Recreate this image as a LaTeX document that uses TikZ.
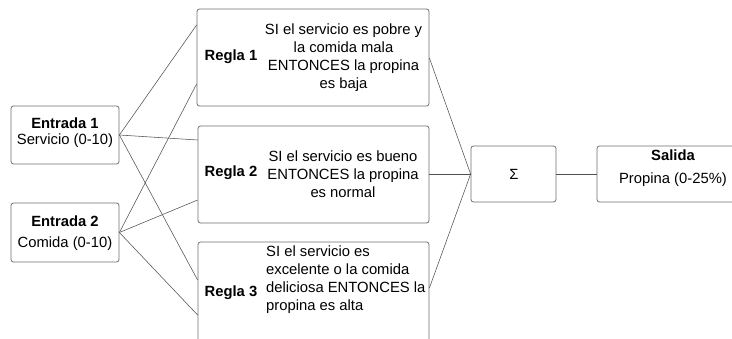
\documentclass[tikz,border=0pt]{standalone}
\usepackage{fontspec}
\setmainfont{Liberation Sans}
\definecolor{boxgray}{HTML}{6E6E6E}
\definecolor{linegray}{HTML}{505050}
\begin{document}
\begin{tikzpicture}[x=1pt,y=-1pt,
  box/.style={draw=boxgray, rounded corners=2.5pt, line width=0.8pt, inner sep=0pt},
  conn/.style={draw=linegray, line width=0.55pt},
  txt/.style={inner sep=0pt, font=\fontsize{14.8}{18}\selectfont, align=center},
  btxt/.style={inner sep=0pt, font=\fontsize{14.8}{18}\selectfont\bfseries}]
\useasboundingbox (0,0) rectangle (732,338);
\clip (0,0) rectangle (732,338);
% boxes
\node[box, minimum width=108pt, minimum height=58pt] (e1) at (65,135) {};
\node[box, minimum width=108pt, minimum height=59pt] (e2) at (65,232.5) {};
\node[box, minimum width=232pt, minimum height=97pt] (r1) at (313,57.5) {};
\node[box, minimum width=231pt, minimum height=97pt] (r2) at (313.5,174.5) {};
\node[box, minimum width=231pt, minimum height=104pt] (r3) at (313.5,294) {};
\node[box, minimum width=85pt, minimum height=56pt] (s) at (513.5,174) {};
\node[box, minimum width=150pt, minimum height=56pt] (o) at (672,174) {};
% texts
\node[btxt] (e1t) at (65,123) {Entrada 1};
\node[txt] (e1s) at (65,141) {Servicio (0-10)};
\node[btxt] (e2t) at (65,221) {Entrada 2};
\node[txt] (e2s) at (65,244) {Comida (0-10)};
\node[btxt] (r1l) at (231,57) {Regla 1};
\node[btxt] (r2l) at (231,173) {Regla 2};
\node[btxt] (r3l) at (231,293) {Regla 3};
\node[txt] (r1t) at (343.5,57.5) {SI el servicio es pobre y\\la comida mala\\ENTONCES la propina\\es baja};
\node[txt] (r2t) at (343,174) {SI el servicio es bueno\\ENTONCES la propina\\es normal};
\node[txt, align=left, anchor=west] (r3t) at (266,280) {SI el servicio es\\excelente o la comida\\deliciosa ENTONCES la\\propina es alta};
\node[txt] (st) at (514,174) {Σ};
\node[btxt] (ot) at (673,155) {Salida};
\node[txt] (os) at (673,180) {Propina (0-25\%)};
% connectors
\draw[conn] (e1.east) -- (r1.west |- 0,25);
\draw[conn] (e1.east) -- (r2.west |- 0,140);
\draw[conn] (e1.east) -- (r3.west |- 0,280);
\draw[conn] (e2.east) -- (r1.west |- 0,84);
\draw[conn] (e2.east) -- (r2.west |- 0,200);
\draw[conn] (e2.east) -- (r3.west |- 0,315);
\draw[conn] (r1.east |- 0,58) -- (s.west);
\draw[conn] (r2.east |- 0,174) -- (s.west);
\draw[conn] (r3.east |- 0,288) -- (s.west);
\draw[conn] (s.east) -- (o.west);
\end{tikzpicture}
\end{document}
